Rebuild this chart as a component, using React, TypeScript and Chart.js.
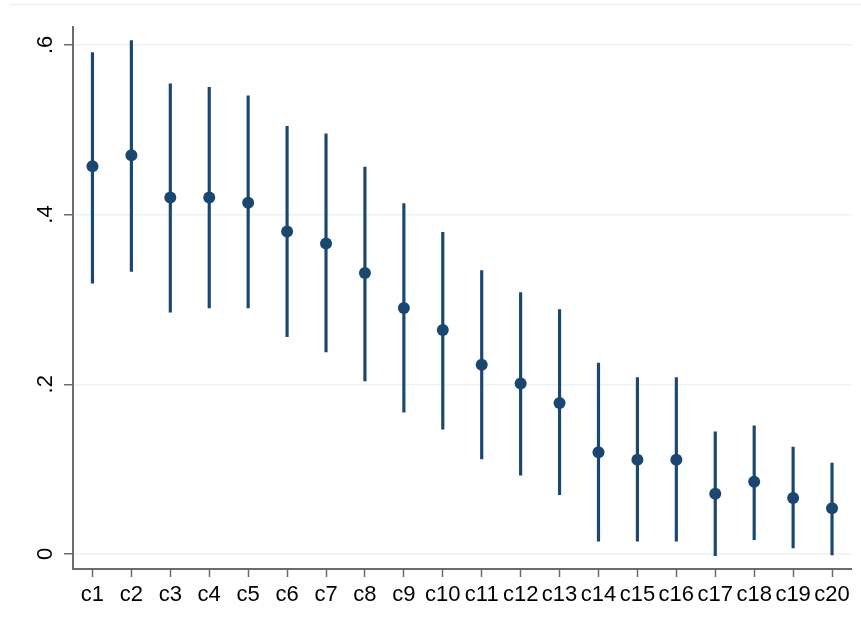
import React, { useEffect, useRef } from "react";
import { Chart, registerables } from "chart.js";

Chart.register(...registerables);

const categories = ["c1","c2","c3","c4","c5","c6","c7","c8","c9","c10","c11","c12","c13","c14","c15","c16","c17","c18","c19","c20"];
const estimates = [0.457,0.470,0.420,0.420,0.414,0.380,0.366,0.331,0.290,0.264,0.223,0.201,0.178,0.120,0.111,0.111,0.071,0.085,0.066,0.054];
const upper = [0.591,0.605,0.554,0.550,0.540,0.504,0.495,0.456,0.413,0.379,0.334,0.308,0.288,0.225,0.208,0.208,0.144,0.151,0.126,0.107];
const lower = [0.319,0.333,0.285,0.290,0.290,0.256,0.238,0.204,0.167,0.147,0.112,0.093,0.070,0.015,0.015,0.015,-0.002,0.017,0.007,-0.001];
const yTicks = [0, 0.2, 0.4, 0.6];
const yTickLabels = ["0", ".2", ".4", ".6"];

const NAVY = "#1a476f";
const GRID = "#eaf2f3";
const AXIS = "#6b6b6b";
const FONT = "'Liberation Sans', Arial, sans-serif";

const topLine = {
  id: "topLine",
  beforeDraw(chart: any) {
    const ctx = chart.ctx;
    ctx.save();
    ctx.strokeStyle = GRID;
    ctx.lineWidth = 1.5;
    ctx.beginPath();
    ctx.moveTo(9, 4.5);
    ctx.lineTo(chart.width, 4.5);
    ctx.stroke();
    ctx.restore();
  },
};

export default function App() {
  const ref = useRef<HTMLCanvasElement | null>(null);
  useEffect(() => {
    if (!ref.current) return;
    const chart = new Chart(ref.current, {
      data: {
        labels: categories,
        datasets: [
          {
            type: "scatter" as any,
            data: estimates.map((v, i) => ({ x: categories[i], y: v })),
            showLine: false,
            pointRadius: 6,
            pointHoverRadius: 6,
            pointBackgroundColor: NAVY,
            pointBorderColor: NAVY,
            pointBorderWidth: 0,
            order: 0,
          },
          {
            type: "bar",
            data: categories.map((_, i) => [lower[i], upper[i]]) as any,
            backgroundColor: NAVY,
            borderWidth: 0,
            barThickness: 2.5,
            order: 1,
          },
        ],
      },
      options: {
        animation: false,
        responsive: false,
        events: [],
        layout: { padding: { top: 27, right: 9.5, left: 0, bottom: 0 } },
        plugins: { legend: { display: false }, tooltip: { enabled: false } },
        scales: {
          x: {
            type: "category",
            offset: true,
            grid: { offset: false, drawOnChartArea: false, tickLength: 8, tickColor: AXIS, tickWidth: 1.5 },
            border: { color: AXIS, width: 2 },
            ticks: { color: "#000", font: { family: FONT, size: 22 }, padding: 5, maxRotation: 0, autoSkip: false },
            afterFit(scale: any) { scale.height = 61; },
          },
          y: {
            type: "linear",
            min: -0.0177,
            max: 0.621,
            afterBuildTicks(scale: any) { scale.ticks = yTicks.map((v) => ({ value: v })); },
            grid: { color: GRID, lineWidth: 1.5, tickLength: 9, tickColor: AXIS, tickWidth: 1.5 },
            border: { color: AXIS, width: 2 },
            ticks: {
              color: "#000",
              font: { family: FONT, size: 22 },
              minRotation: 90,
              maxRotation: 90,
              crossAlign: "center",
              padding: 9,
              callback: (v: any) => {
                const i = yTicks.findIndex((t) => Math.abs(t - v) < 1e-9);
                return i >= 0 ? yTickLabels[i] : "";
              },
            },
            afterFit(scale: any) { scale.width = 73; },
          },
        },
      },
      plugins: [topLine],
    });
    return () => chart.destroy();
  }, []);
  return (
    <div style={{ position: "fixed", left: 0, top: 0, width: 861, height: 630, background: "#fff" }}>
      <canvas ref={ref} width={861} height={630} style={{ display: "block" }} />
    </div>
  );
}
